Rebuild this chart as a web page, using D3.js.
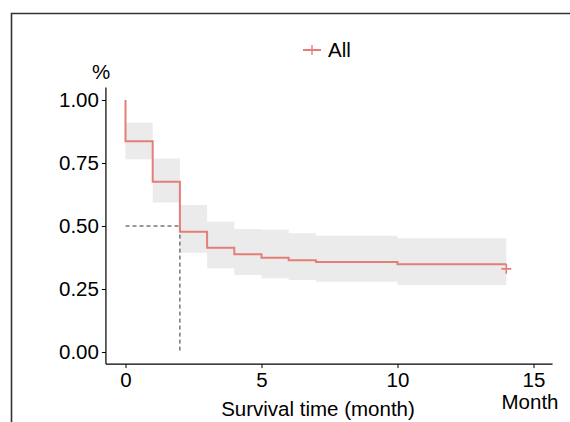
<!DOCTYPE html>
<html>
<head>
<meta charset="utf-8">
<script src="https://cdn.jsdelivr.net/npm/d3@7"></script>
<style>
  body { margin: 0; background: #fff; }
  svg { display: block; font-family: "Liberation Sans", Arial, sans-serif; }
</style>
</head>
<body>
<div id="chart"></div>
<script>
// survival steps (start time of each interval), curve ends at last follow-up
var stepTimes = [0, 1, 2, 3, 4, 5, 6, 7, 10];
var survival  = [0.836, 0.676, 0.477, 0.414, 0.388, 0.374, 0.364, 0.357, 0.348];
var upperCI   = [0.910, 0.768, 0.583, 0.517, 0.488, 0.485, 0.471, 0.461, 0.451];
var lowerCI   = [0.765, 0.593, 0.394, 0.332, 0.306, 0.293, 0.286, 0.279, 0.266];
var endTime = 14;
var censorTimes = [14];
var censorValues = [0.33];
var medianTime = 2;
var xTicks = [0, 5, 10, 15];
var yTicks = [0, 0.25, 0.5, 0.75, 1];

var svgWidth = 570, svgHeight = 422;
var red = "#e47f78";
var fs = 20.5;

var svg = d3.select("#chart").append("svg")
  .attr("width", svgWidth)
  .attr("height", svgHeight);

// outer frame (left + top only visible)
svg.append("path")
  .attr("d", "M11.5,422 V13.5 H570")
  .attr("fill", "none")
  .attr("stroke", "#333")
  .attr("stroke-width", 1.6);

var x = d3.scaleLinear().domain([0, 15]).range([125.5, 533.5]);
var y = d3.scaleLinear().domain([0, 1]).range([352, 100]);

// confidence band
var bandData = stepTimes.map(function(t, i) {
  return { t: t, lo: lowerCI[i], hi: upperCI[i] };
});
bandData.push({ t: endTime, lo: lowerCI[lowerCI.length - 1], hi: upperCI[upperCI.length - 1] });

var band = d3.area()
  .x(d => x(d.t))
  .y0(d => y(d.lo))
  .y1(d => y(d.hi))
  .curve(d3.curveStepAfter);

svg.append("path")
  .datum(bandData)
  .attr("d", band)
  .attr("fill", "#ebebeb");

// median lines
svg.append("path")
  .attr("d", "M" + x(0) + "," + y(0.5) + "H" + x(medianTime) + "V" + y(0))
  .attr("fill", "none")
  .attr("stroke", "#333")
  .attr("stroke-width", 1)
  .attr("stroke-dasharray", "4,3");

// survival curve
var curveData = [{ t: 0, s: 1 }];
stepTimes.forEach(function(t, i) { curveData.push({ t: t, s: survival[i] }); });
curveData.push({ t: endTime, s: survival[survival.length - 1] });

var line = d3.line()
  .x(d => x(d.t))
  .y(d => y(d.s))
  .curve(d3.curveStepAfter);

svg.append("path")
  .datum(curveData)
  .attr("d", line)
  .attr("fill", "none")
  .attr("stroke", red)
  .attr("stroke-width", 2);

// censor marks
censorTimes.forEach(function(t, i) {
  var cx = x(t), cy = y(censorValues[i]);
  svg.append("path")
    .attr("d", "M" + (cx - 5) + "," + cy + "H" + (cx + 5) + "M" + cx + "," + (cy - 5) + "V" + (cy + 5))
    .attr("stroke", red)
    .attr("stroke-width", 1.6);
});

// axes
var yAxis = svg.append("g")
  .attr("transform", "translate(" + x(-0.72) + ",0)")
  .call(d3.axisLeft(y).tickValues(yTicks).tickFormat(d3.format(".2f")).tickSize(4).tickPadding(3));
yAxis.select(".domain").remove();
yAxis.append("line")
  .attr("y1", y(1.05)).attr("y2", y(-0.048))
  .attr("stroke", "#000").attr("stroke-width", 1.2);

var xAxis = svg.append("g")
  .attr("transform", "translate(0," + y(-0.048) + ")")
  .call(d3.axisBottom(x).tickValues(xTicks).tickSize(4).tickPadding(4));
xAxis.select(".domain").remove();
xAxis.append("line")
  .attr("x1", x(-0.72)).attr("x2", x(15.7))
  .attr("stroke", "#000").attr("stroke-width", 1.2);

svg.selectAll(".tick text")
  .attr("font-size", fs)
  .attr("font-family", "Liberation Sans, Arial, sans-serif")
  .attr("fill", "#000");
svg.selectAll(".tick line").attr("stroke", "#000");

// labels
svg.append("text")
  .attr("x", 318).attr("y", 416)
  .attr("text-anchor", "middle")
  .attr("font-size", fs)
  .text("Survival time (month)");

svg.append("text")
  .attr("x", 530).attr("y", 409)
  .attr("text-anchor", "middle")
  .attr("font-size", fs)
  .text("Month");

svg.append("text")
  .attr("x", 101).attr("y", 79)
  .attr("text-anchor", "middle")
  .attr("font-size", fs)
  .text("%");

// legend
var legend = svg.append("g").attr("transform", "translate(312,50)");
legend.append("line")
  .attr("x1", -9).attr("x2", 9)
  .attr("stroke", red).attr("stroke-width", 2);
legend.append("path")
  .attr("d", "M-5,0H5M0,-5V5")
  .attr("stroke", red).attr("stroke-width", 1.4);
legend.append("text")
  .attr("x", 16).attr("y", 7)
  .attr("font-size", fs)
  .text("All");
</script>
</body>
</html>
